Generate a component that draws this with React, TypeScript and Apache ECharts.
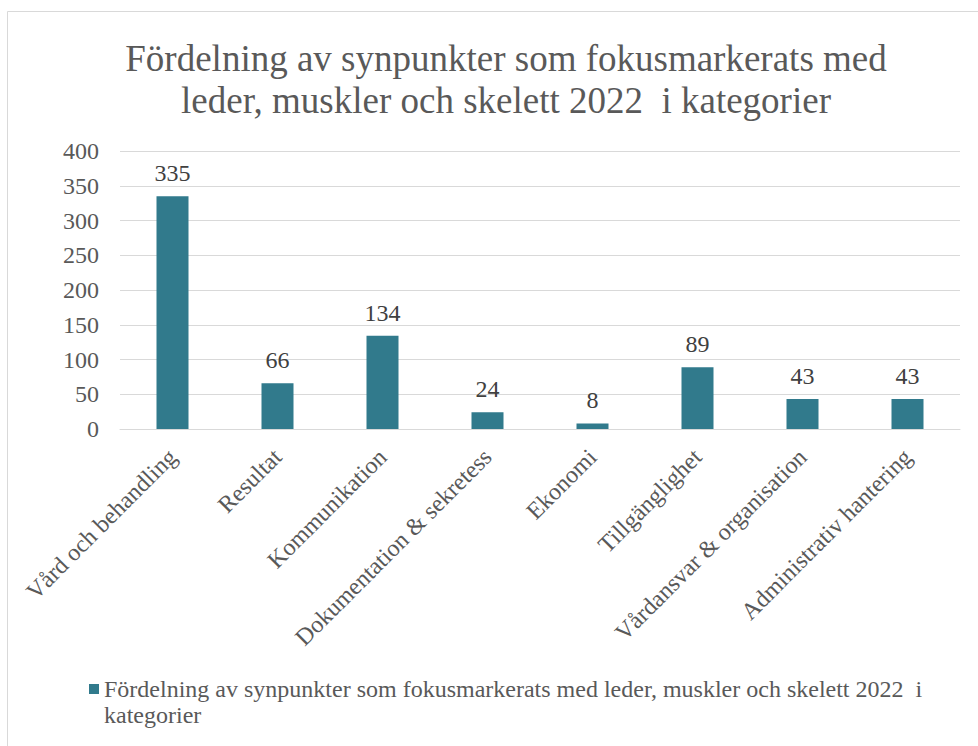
import React, { useEffect, useRef } from "react";
import * as echarts from "echarts";

const categories = [
  "Vård och behandling",
  "Resultat",
  "Kommunikation",
  "Dokumentation & sekretess",
  "Ekonomi",
  "Tillgänglighet",
  "Vårdansvar & organisation",
  "Administrativ hantering",
];
const values = [335, 66, 134, 24, 8, 89, 43, 43];
const seriesName =
  "Fördelning av synpunkter som fokusmarkerats med leder, muskler och skelett 2022  i kategorier";
const titleText =
  "Fördelning av synpunkter som fokusmarkerats med\nleder, muskler och skelett 2022  i kategorier";

const FONT = "Liberation Serif";
const TXT = "#595959";
const BAR = "#317A8C";

export default function App() {
  const ref = useRef<HTMLDivElement>(null);
  useEffect(() => {
    if (!ref.current) return;
    const chart = echarts.init(ref.current, null, { renderer: "svg" });
    chart.setOption({
      animation: false,
      backgroundColor: "#ffffff",
      textStyle: { fontFamily: FONT },
      graphic: [
        {
          type: "rect",
          shape: { x: 7.5, y: 11.5, width: 1000, height: 800 },
          style: { fill: "none", stroke: "#D9D9D9", lineWidth: 1 },
          silent: true,
        },
      ],
      title: {
        text: titleText,
        left: 501,
        top: 32,
        textAlign: "center",
        textStyle: {
          fontFamily: FONT,
          fontSize: 37,
          fontWeight: "normal",
          color: TXT,
          lineHeight: 42,
        },
      },
      legend: {
        left: 89,
        top: 676,
        padding: 0,
        itemWidth: 10,
        itemHeight: 52,
        icon: "path://M0,8h10v10h-10z M0,0h0.01v0.01h-0.01z M0,52h0.01v0.01h-0.01z",
        formatter: (name: string) => name.replace(" kategorier", "\nkategorier"),
        textStyle: {
          fontFamily: FONT,
          fontSize: 24,
          color: TXT,
          lineHeight: 26,
        },
        data: [seriesName],
      },
      grid: { left: 120, right: 18, top: 151, bottom: 317, containLabel: false },
      xAxis: {
        type: "category",
        data: categories,
        axisLine: { lineStyle: { color: "#D9D9D9", width: 1 } },
        axisTick: { show: false },
        axisLabel: {
          rotate: 45,
          interval: 0,
          margin: 24,
          fontFamily: FONT,
          fontSize: 24,
          color: TXT,
        },
      },
      yAxis: {
        type: "value",
        min: 0,
        max: 400,
        interval: 50,
        axisLine: { show: false },
        axisTick: { show: false },
        splitLine: { lineStyle: { color: "#D9D9D9", width: 1 } },
        axisLabel: {
          margin: 21,
          fontFamily: FONT,
          fontSize: 24,
          color: TXT,
        },
      },
      series: [
        {
          name: seriesName,
          type: "bar",
          data: values,
          barWidth: 32,
          itemStyle: { color: BAR },
          label: {
            show: true,
            position: "top",
            distance: 11,
            fontFamily: FONT,
            fontSize: 24,
            color: "#404040",
          },
        },
      ],
    });
    return () => chart.dispose();
  }, []);
  return (
    <div
      ref={ref}
      style={{ position: "absolute", left: 0, top: 0, width: 978, height: 746 }}
    />
  );
}
